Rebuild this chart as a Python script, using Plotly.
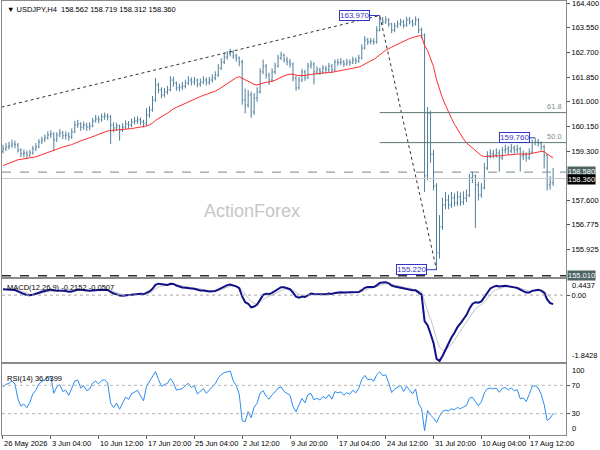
import plotly.graph_objects as go

# USDJPY, bars (one entry per two H4 bars)
closes = [
    159.38, 159.45, 159.48, 159.55, 159.52, 159.34, 159.21, 159.24, 159.17, 159.24,
    159.38, 159.45, 159.62, 159.69, 159.76, 159.86, 159.89, 159.69, 159.86, 159.93,
    159.83, 159.86, 159.79, 159.96, 160.20, 160.24, 160.13, 160.20, 160.13, 160.17,
    160.34, 160.41, 160.38, 160.48, 160.51, 160.48, 160.20, 160.10, 160.17, 160.03,
    160.13, 160.24, 160.20, 160.31, 160.34, 160.38, 160.31, 160.24, 160.55, 160.72,
    161.06, 161.58, 161.41, 161.24, 161.34, 161.41, 161.75, 161.65, 161.48, 161.51,
    161.54, 161.65, 161.75, 161.68, 161.75, 161.61, 161.68, 161.75, 161.68, 161.75,
    161.82, 161.92, 162.16, 162.37, 162.54, 162.65, 162.71, 162.58, 162.51, 162.37,
    161.06, 160.89, 161.24, 160.65, 161.13, 161.34, 162.03, 162.23, 161.92, 161.75,
    162.03, 162.23, 162.51, 162.61, 162.44, 162.37, 162.30, 161.82, 161.48, 161.75,
    162.03, 161.82, 162.23, 162.30, 162.03, 162.10, 162.03, 162.16, 162.10, 162.23,
    162.10, 162.37, 162.34, 162.37, 162.30, 162.37, 162.34, 162.44, 162.40, 162.51,
    162.85, 163.13, 163.06, 163.09, 163.06, 163.47, 163.82, 163.75, 163.82, 163.68,
    163.47, 163.61, 163.68, 163.75, 163.64, 163.82, 163.75, 163.68, 163.82, 163.47,
    163.30, 158.45, 160.60, 159.20, 158.10, 155.80, 156.70, 157.45, 157.62, 157.45,
    157.69, 157.52, 157.73, 157.55, 157.69, 157.79, 158.38, 158.45, 158.14, 157.79,
    158.04, 158.72, 159.14, 159.21, 159.17, 159.24, 159.07, 159.34, 159.38, 159.31,
    159.41, 159.34, 159.38, 159.14, 159.17, 159.07, 159.27, 159.60, 159.62, 159.58,
    159.45, 159.17, 158.14, 158.21, 158.36,
]
highs = [
    159.52, 159.58, 159.62, 159.70, 159.66, 159.58, 159.40, 159.36, 159.32, 159.35,
    159.48, 159.58, 159.72, 159.80, 159.88, 159.98, 160.02, 159.95, 159.95, 160.06,
    160.00, 159.98, 159.95, 160.08, 160.34, 160.38, 160.30, 160.32, 160.28, 160.30,
    160.45, 160.55, 160.52, 160.60, 160.63, 160.60, 160.55, 160.30, 160.28, 160.22,
    160.26, 160.36, 160.34, 160.42, 160.48, 160.50, 160.46, 160.38, 160.78, 160.85,
    161.20, 161.82, 161.66, 161.50, 161.48, 161.55, 161.88, 161.86, 161.70, 161.62,
    161.68, 161.76, 161.88, 161.84, 161.86, 161.80, 161.80, 161.88, 161.84, 161.86,
    161.95, 162.05, 162.30, 162.50, 162.68, 162.75, 162.82, 162.78, 162.66, 162.56,
    162.45, 161.45, 161.40, 161.35, 161.30, 161.50, 162.15, 162.45, 162.30, 162.00,
    162.15, 162.35, 162.62, 162.72, 162.66, 162.55, 162.48, 162.36, 161.90, 161.86,
    162.14, 162.10, 162.34, 162.42, 162.36, 162.22, 162.18, 162.26, 162.24, 162.34,
    162.30, 162.46, 162.48, 162.50, 162.44, 162.48, 162.46, 162.55, 162.52, 162.62,
    162.98, 163.26, 163.20, 163.20, 163.18, 163.60, 163.97, 163.92, 163.94, 163.88,
    163.72, 163.72, 163.80, 163.86, 163.82, 163.93, 163.92, 163.84, 163.94, 163.88,
    163.56, 163.35, 160.82, 160.70, 159.35, 158.20, 157.10, 157.70, 157.90, 157.80,
    157.90, 157.85, 157.92, 157.88, 157.92, 157.98, 158.52, 158.60, 158.50, 158.25,
    158.20, 158.90, 159.30, 159.36, 159.34, 159.40, 159.36, 159.45, 159.52, 159.48,
    159.55, 159.50, 159.52, 159.45, 159.32, 159.26, 159.40, 159.70, 159.76, 159.72,
    159.64, 159.52, 159.20, 158.45, 158.72,
]
lows = [
    159.22, 159.30, 159.36, 159.42, 159.40, 159.26, 159.10, 159.08, 159.05, 159.10,
    159.18, 159.30, 159.40, 159.55, 159.62, 159.70, 159.75, 159.30, 159.62, 159.78,
    159.72, 159.70, 159.66, 159.72, 159.92, 160.10, 160.00, 160.04, 160.00, 160.02,
    160.12, 160.28, 160.26, 160.32, 160.38, 160.36, 159.55, 159.95, 160.00, 159.66,
    159.96, 160.06, 160.08, 160.12, 160.22, 160.24, 160.20, 160.12, 160.18, 160.45,
    160.66, 161.00, 161.30, 161.12, 161.15, 161.25, 161.36, 161.52, 161.38, 161.36,
    161.40, 161.46, 161.58, 161.56, 161.58, 161.50, 161.52, 161.60, 161.56, 161.58,
    161.66, 161.74, 161.86, 162.10, 162.30, 162.45, 162.56, 162.48, 162.38, 162.22,
    160.90, 160.60, 160.80, 160.45, 160.55, 161.00, 161.28, 161.95, 161.80, 161.58,
    161.68, 161.95, 162.18, 162.44, 162.35, 162.25, 162.18, 161.70, 161.38, 161.42,
    161.68, 161.72, 161.78, 162.14, 161.60, 161.94, 161.92, 161.96, 161.98, 162.02,
    162.00, 162.06, 162.24, 162.26, 162.20, 162.24, 162.24, 162.30, 162.30, 162.34,
    162.46, 162.80, 162.96, 162.98, 162.96, 163.00, 163.42, 163.64, 163.68, 163.58,
    163.36, 163.40, 163.54, 163.60, 163.54, 163.58, 163.66, 163.58, 163.62, 163.36,
    163.18, 157.90, 158.30, 158.90, 157.95, 155.22, 155.60, 156.60, 157.30, 157.30,
    157.35, 157.40, 157.42, 157.42, 157.45, 157.55, 157.72, 158.20, 156.66, 157.60,
    157.70, 157.98, 158.65, 159.05, 159.06, 159.08, 158.59, 159.00, 159.22, 159.18,
    159.24, 159.22, 159.24, 158.60, 159.00, 158.94, 159.00, 159.22, 159.50, 159.46,
    159.32, 158.70, 157.95, 157.98, 158.10,
]
first_open = 159.30

# indicator seeds (state of the averages at the left edge of the window)
ma_seed = 158.76
fast_seed, slow_seed, signal_seed = 159.32, 159.14, 0.15
rsi_gain_seed, rsi_loss_seed = 0.06, 0.035

# readouts printed by the terminal
header = "\u25bc USDJPY,H4  158.562 158.719 158.312 158.360"
macd_readout = "MACD(12,26,9) -0.2152 -0.0507"
rsi_readout = "RSI(14) 36.6399"

# zigzag pivots: swing low left of the window, 163.970 top, 155.220 bottom
zigzag_idx = [-20, 126, 145]
zigzag_px = [160.33, 163.97, 155.22]
fib_levels = [0.5, 0.618]
line_levels = [158.580, 158.360, 155.010]

label_idx = [0, 16, 32, 48, 64, 80, 96, 112, 128, 144, 160, 176]
label_text = ["26 May 2026", "3 Jun 04:00", "10 Jun 12:00", "17 Jun 20:00",
              "25 Jun 04:00", "2 Jul 12:00", "9 Jul 20:00", "17 Jul 04:00",
              "24 Jul 12:00", "31 Jul 20:00", "10 Aug 04:00", "17 Aug 12:00"]
price_ticks = [164.400, 163.550, 162.700, 161.850, 161.000, 160.150,
               159.300, 157.600, 156.775, 155.925]

idx = list(range(len(closes)))
opens = [first_open] + closes[:-1]


def ema(values, period, seed):
    k = 2.0 / (period + 1)
    out, e = [], seed
    for v in values:
        e += k * (v - e)
        out.append(e)
    return out


def rsi(values, period, prev, gain, loss):
    out = []
    for v in values:
        d = v - prev
        prev = v
        gain = (gain * (period - 1) + max(d, 0)) / period
        loss = (loss * (period - 1) + max(-d, 0)) / period
        out.append(100 * gain / (gain + loss))
    return out


# 2 H4 bars per point, so periods are halved: EMA55 -> 27.5, MACD 12/26/9 -> 6/13/4.5, RSI14 -> 7
ma = ema(closes, 27.5, ma_seed)
fast = ema(closes, 6, fast_seed)
slow = ema(closes, 13, slow_seed)
macd = [f - s for f, s in zip(fast, slow)]
signal = ema(macd, 4.5, signal_seed)
rsi_vals = rsi(closes, 7, first_open, rsi_gain_seed, rsi_loss_seed)

top = zigzag_px[1]
bottom = zigzag_px[2]
fibs = [bottom + r * (top - bottom) for r in fib_levels]

FONT = "Liberation Sans"
FS = 7.5
BAR = "#4f7f9c"
BORDER = "#8a8a8a"
x_range = [-0.33, 188.3]

fig = go.Figure()
fig.add_trace(go.Ohlc(x=idx, open=opens, high=highs, low=lows, close=closes,
                      increasing_line_color=BAR, decreasing_line_color=BAR,
                      line_width=1, tickwidth=0.35, hoverinfo="skip",
                      xaxis="x", yaxis="y"))
fig.add_trace(go.Scatter(x=idx, y=ma, mode="lines", line=dict(color="#ff2a2a", width=1),
                         xaxis="x", yaxis="y", hoverinfo="skip"))
fig.add_trace(go.Scatter(x=zigzag_idx, y=zigzag_px, mode="lines",
                         line=dict(color="#333333", width=1, dash="dot"),
                         xaxis="x", yaxis="y", hoverinfo="skip"))
fig.add_trace(go.Scatter(x=idx, y=signal, mode="lines", line=dict(color="#c4c4c4", width=1),
                         xaxis="x2", yaxis="y2", hoverinfo="skip"))
fig.add_trace(go.Scatter(x=idx, y=macd, mode="lines", line=dict(color="#101088", width=2),
                         xaxis="x2", yaxis="y2", hoverinfo="skip"))
fig.add_trace(go.Scatter(x=idx, y=rsi_vals, mode="lines", line=dict(color="#2b8cf0", width=1),
                         xaxis="x3", yaxis="y3", hoverinfo="skip"))

# horizontal levels
fig.add_shape(type="line", xref="x domain", x0=0, x1=1, yref="y", y0=line_levels[0], y1=line_levels[0],
              line=dict(color="#7a8a8a", width=1, dash="dash"))
fig.add_shape(type="line", xref="x domain", x0=0, x1=1, yref="y", y0=line_levels[1], y1=line_levels[1],
              line=dict(color="#c8c8c8", width=1))
fig.add_shape(type="line", xref="x domain", x0=0, x1=1, yref="y", y0=line_levels[2], y1=line_levels[2],
              line=dict(color="#303030", width=1.5, dash="dash"))
for lvl, txt in zip(fibs, ["50.0", "61.8"]):
    fig.add_shape(type="line", xref="x", x0=zigzag_idx[1], x1=x_range[1], yref="y", y0=lvl, y1=lvl,
                  line=dict(color="#5a7676", width=1))
    fig.add_annotation(xref="paper", x=1, xanchor="right", xshift=-2, yref="y", y=lvl,
                       yanchor="bottom", text=txt, showarrow=False,
                       font=dict(family=FONT, size=FS, color="#7a8e8e"))
fig.add_shape(type="line", xref="x2 domain", x0=0, x1=1, yref="y2", y0=0, y1=0,
              line=dict(color="#a8a8a8", width=1, dash="dot"))
for lvl in [30, 70]:
    fig.add_shape(type="line", xref="x3 domain", x0=0, x1=1, yref="y3", y0=lvl, y1=lvl,
                  line=dict(color="#b4b4b4", width=1, dash="dot"))

# pivot price boxes
for xi, px, ax in [(zigzag_idx[1], zigzag_px[1], -25), (zigzag_idx[2], zigzag_px[2], -25),
                   (178, highs[178], -21)]:
    fig.add_annotation(x=xi, y=px, xref="x", yref="y", text=f"{px:.3f}", showarrow=True,
                       arrowhead=0, arrowwidth=1, arrowcolor="#3535c5", ax=ax, ay=0,
                       bgcolor="white", bordercolor="#3535c5", borderwidth=1, borderpad=0,
                       font=dict(family=FONT, size=FS + 0.5, color="#3535c5"))

# right axis level boxes (the two near the last price sit edge to edge)
for lvl, bg, ys in zip(line_levels, ["#4d6464", "#000000", "#4d6464"], [1, -1, 0]):
    fig.add_annotation(xref="paper", x=1, xanchor="left", xshift=1, yref="y", y=lvl, yshift=ys,
                       text=f"{lvl:.3f}", showarrow=False, bgcolor=bg, borderpad=0,
                       font=dict(family=FONT, size=FS, color="white"))

# top price label sits on the pane edge, plotly drops it as a tick label
fig.add_annotation(xref="paper", x=1, xanchor="left", xshift=4, yref="y", y=price_ticks[0],
                   text=f"{price_ticks[0]:.3f}", showarrow=False,
                   font=dict(family=FONT, size=FS, color="black"))

# indicator edge values
for ref, yv, anchor, txt in [("y2 domain", 1, "top", "0.4437"), ("y2 domain", 0, "bottom", "-1.8428"),
                             ("y3 domain", 1, "top", "100"), ("y3 domain", 0, "bottom", "0")]:
    fig.add_annotation(xref="paper", x=1, xanchor="left", xshift=4, yref=ref, y=yv, yanchor=anchor,
                       text=txt, showarrow=False, font=dict(family=FONT, size=FS, color="black"))

# titles
for ref, shift, txt in [("y domain", -2, header), ("y2 domain", -2, macd_readout),
                        ("y3 domain", -8, rsi_readout)]:
    fig.add_annotation(xref="paper", x=0, xshift=3, yref=ref, y=1, yshift=shift, xanchor="left",
                       yanchor="top", showarrow=False, text=txt,
                       font=dict(family=FONT, size=FS, color="black"))
fig.add_annotation(xref="paper", x=0.443, yref="y domain", y=0.196, showarrow=False,
                   text="ActionForex", font=dict(family=FONT, size=18, color="#c6c6c6"))

# time labels, left-aligned like the terminal
for xi, txt in zip(label_idx, label_text):
    fig.add_annotation(xref="x", x=xi, xanchor="left", xshift=-1, yref="paper", y=0, yanchor="top",
                       yshift=-2, text=txt, showarrow=False,
                       font=dict(family=FONT, size=FS, color="black"))

xstyle = dict(range=x_range, showgrid=False, zeroline=False, showline=True, mirror=True,
              linecolor=BORDER, linewidth=1, showticklabels=False, fixedrange=True)
ystyle = dict(showgrid=False, zeroline=False, showline=True, mirror=True, linecolor=BORDER,
              linewidth=1, side="right", ticks="outside", ticklen=3, tickcolor="#555555",
              tickfont=dict(family=FONT, size=FS, color="black"), fixedrange=True)

fig.update_layout(
    width=600, height=450,
    margin=dict(l=2, r=34, t=1, b=15),
    paper_bgcolor="white", plot_bgcolor="white",
    showlegend=False,
    font=dict(family=FONT, size=FS),
    xaxis=dict(**xstyle, anchor="y", rangeslider=dict(visible=False)),
    xaxis2=dict(**xstyle, anchor="y2", matches="x"),
    xaxis3=dict(**xstyle, anchor="y3", matches="x", ticks="outside", ticklen=3,
                tickcolor="#555555", tickvals=label_idx),
    yaxis=dict(**ystyle, domain=[0.3641, 1], range=[154.97, 164.47],
               tickvals=price_ticks, ticktext=[f"{v:.3f}" for v in price_ticks]),
    yaxis2=dict(**ystyle, domain=[0.1682, 0.3594], range=[-1.8428, 0.4437],
                tickvals=[0], ticktext=["0.00"]),
    yaxis3=dict(**ystyle, domain=[0, 0.1636], range=[0, 100],
                tickvals=[30, 70], ticktext=["30", "70"]),
)

# the page is photographed at exactly 600x450, so drop the browser's default body margin
fig.write_html("out.html", config={"displayModeBar": False},
               post_script="document.body.style.margin = '0';")
